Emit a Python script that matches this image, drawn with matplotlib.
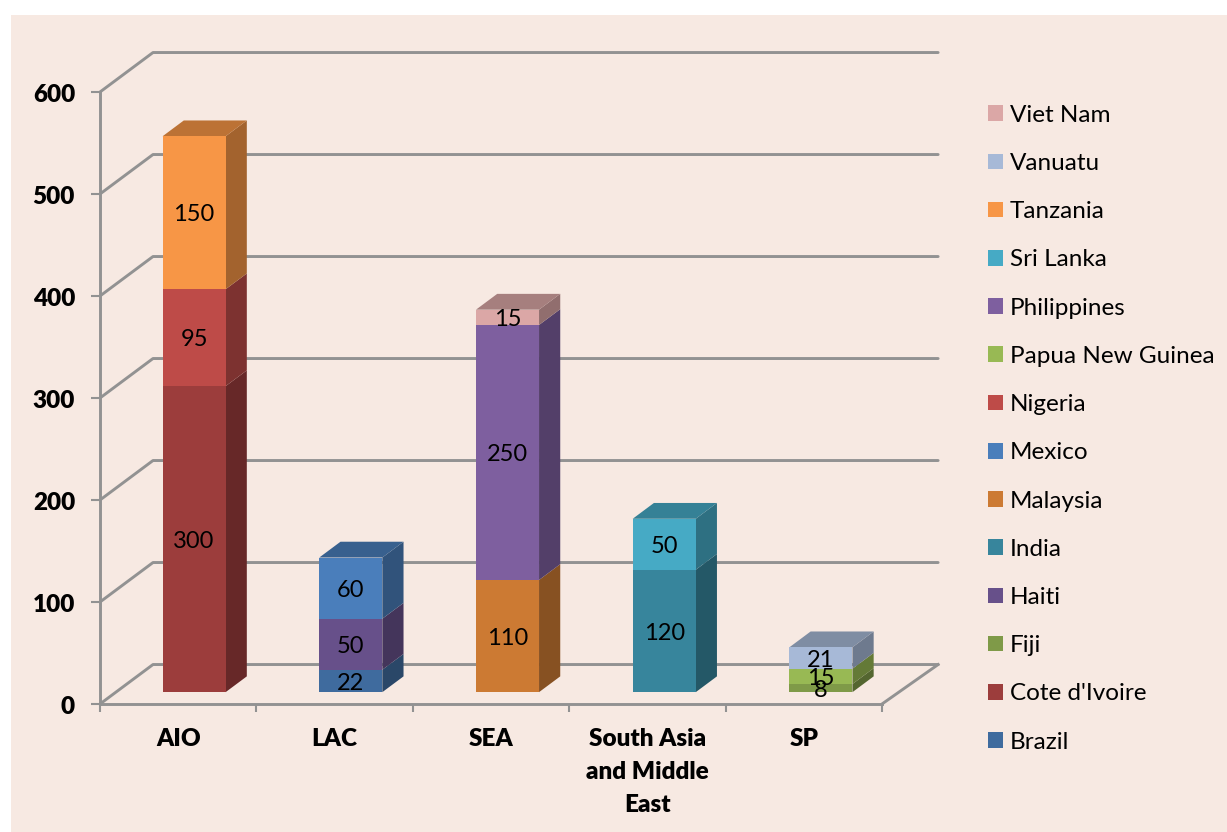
import numpy as np
import matplotlib.pyplot as plt
from matplotlib.colors import to_rgb
from matplotlib.patches import Patch, Polygon, Rectangle
from matplotlib.transforms import ScaledTranslation

plt.rcParams['font.family'] = ['Lato', 'DejaVu Sans']

regions = ['AIO', 'LAC', 'SEA', 'South Asia\nand Middle\nEast', 'SP']
yTicks = [0, 100, 200, 300, 400, 500, 600]

brazil = [0, 22, 0, 0, 0]
coteDivoire = [300, 0, 0, 0, 0]
fiji = [0, 0, 0, 0, 8]
haiti = [0, 50, 0, 0, 0]
india = [0, 0, 0, 120, 0]
malaysia = [0, 0, 110, 0, 0]
mexico = [0, 60, 0, 0, 0]
nigeria = [95, 0, 0, 0, 0]
papuaNewGuinea = [0, 0, 0, 0, 15]
philippines = [0, 0, 250, 0, 0]
sriLanka = [0, 0, 0, 50, 0]
tanzania = [150, 0, 0, 0, 0]
vanuatu = [0, 0, 0, 0, 21]
vietNam = [0, 0, 15, 0, 0]

seriesNames = ['Brazil', "Cote d'Ivoire", 'Fiji', 'Haiti', 'India', 'Malaysia', 'Mexico',
               'Nigeria', 'Papua New Guinea', 'Philippines', 'Sri Lanka', 'Tanzania',
               'Vanuatu', 'Viet Nam']
seriesValues = [brazil, coteDivoire, fiji, haiti, india, malaysia, mexico,
                nigeria, papuaNewGuinea, philippines, sriLanka, tanzania,
                vanuatu, vietNam]
seriesColors = ['#3F6B9E', '#9C3D3C', '#7F9A48', '#67508A', '#37859C', '#CC7A33', '#4A7EBB',
                '#BE4B48', '#98B954', '#7E5F9F', '#46AAC5', '#F79646',
                '#A7B9D7', '#DBA7A6']

panelColor = '#F7E9E2'
gridColor = '#929292'

# 奥行きの量 (x はカテゴリ単位, y は値の単位)
depthX = 53 / 156.4
depthY = 38.7
barDepthFront = 0.3
barDepthBack = 0.7
barWidth = 0.403
barSpacing = 1.002
backExtra = 0.02


def shade(color, k):
    return tuple(c * k for c in to_rgb(color))


def drawGrid(ax):
    for v in yTicks:
        ax.plot([0, depthX, 5 + depthX + backExtra], [v, v + depthY, v + depthY],
                color=gridColor, lw=2.1, clip_on=False, zorder=1, solid_capstyle='round')
    ax.plot([5, 5 + depthX + backExtra], [0, depthY], color=gridColor, lw=2.1,
            clip_on=False, zorder=1)


def drawSegment(ax, i, bottom, height, color, isTop):
    left = i * barSpacing + 0.5 + barDepthFront * depthX - barWidth / 2
    right = left + barWidth
    y0 = bottom + barDepthFront * depthY
    y1 = y0 + height
    dx = (barDepthBack - barDepthFront) * depthX
    dy = (barDepthBack - barDepthFront) * depthY

    ax.bar(left + barWidth / 2, height, width=barWidth, bottom=y0, color=color,
           linewidth=0, clip_on=False, zorder=4)
    ax.add_patch(Polygon([(right, y0), (right + dx, y0 + dy), (right + dx, y1 + dy), (right, y1)],
                         closed=True, facecolor=shade(color, 0.66), edgecolor='none',
                         clip_on=False, zorder=3))
    if isTop:
        ax.add_patch(Polygon([(left, y1), (left + dx, y1 + dy), (right + dx, y1 + dy), (right, y1)],
                             closed=True, facecolor=shade(color, 0.76), edgecolor='none',
                             clip_on=False, zorder=3))
    ax.annotate(str(height), (left + barWidth / 2, (y0 + y1) / 2), xytext=(0, -1.5),
                textcoords='offset points', ha='center', va='center',
                fontsize=17, color='black', annotation_clip=False, zorder=6)


def drawBars(ax):
    values = np.array(seriesValues)
    for i in range(len(regions)):
        nonZero = np.nonzero(values[:, i])[0]
        bottom = 0
        for s in nonZero:
            height = int(values[s, i])
            drawSegment(ax, i, bottom, height, seriesColors[s], s == nonZero[-1])
            bottom += height


def main():
    fig = plt.figure(figsize=(12.27, 8.32), dpi=100, facecolor='white')
    fig.add_artist(Rectangle((11 / 1227, 0), 1 - 11 / 1227, 1 - 15 / 832, zorder=-1,
                             transform=fig.transFigure, facecolor=panelColor, edgecolor='none'))

    ax = fig.add_axes([100 / 1227, (832 - 704) / 832, 782 / 1227, 612 / 832])
    ax.patch.set_visible(False)
    ax.set_xlim(0, 5)
    ax.set_ylim(0, 600)

    drawGrid(ax)
    drawBars(ax)

    for name in ['top', 'right']:
        ax.spines[name].set_visible(False)
    for name in ['left', 'bottom']:
        ax.spines[name].set_color(gridColor)
        ax.spines[name].set_linewidth(2.1)

    ax.set_yticks(yTicks)
    ax.set_yticklabels([str(v) for v in yTicks], fontsize=17.5, fontweight='heavy')
    ax.tick_params(axis='y', length=6.5, width=1.5, color=gridColor, pad=11.5)
    # 目盛りラベルを少し下げる
    shift = ScaledTranslation(0, -1.5 / 100, fig.dpi_scale_trans)
    for label in ax.get_yticklabels():
        label.set_transform(label.get_transform() + shift)

    ax.set_xticks(range(6))
    ax.set_xticklabels([])
    ax.tick_params(axis='x', which='major', length=5.5, width=1.5, color=gridColor)
    ax.set_xticks(np.arange(len(regions)) + 0.5, minor=True)
    ax.set_xticklabels(regions, minor=True, fontsize=17.5, fontweight='heavy', linespacing=1.62)
    ax.tick_params(axis='x', which='minor', length=0, pad=17)

    # 凡例は逆順
    handles = [Patch(facecolor=c, edgecolor='none') for c in reversed(seriesColors)]
    fig.legend(handles, list(reversed(seriesNames)), loc='upper left',
               bbox_to_anchor=(978.5 / 1227, 1 - 95 / 832), frameon=False, fontsize=17.5,
               handlelength=0.62, handleheight=0.62, handletextpad=0.27, labelspacing=1.12,
               borderpad=0.4, borderaxespad=0)

    fig.savefig('out.png', dpi=100, facecolor='white')


if __name__ == '__main__':
    main()
